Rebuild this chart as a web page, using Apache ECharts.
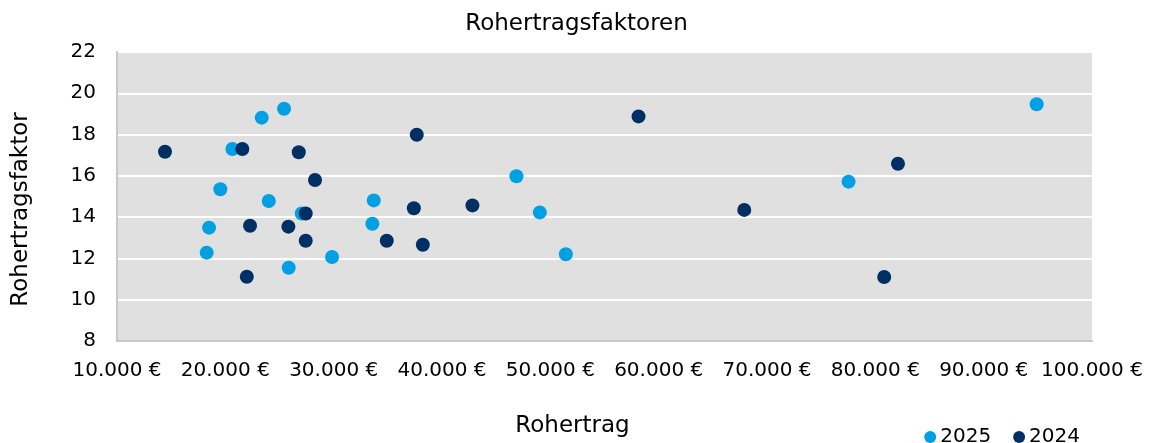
<!DOCTYPE html>
<html>
<head>
<meta charset="utf-8">
<script src="https://cdn.jsdelivr.net/npm/echarts@6/dist/echarts.min.js"></script>
<style>
    html, body { margin: 0; padding: 0; background: #fff; }
    #chart { width: 1153px; height: 443px; }
</style>
</head>
<body>
<div id="chart"></div>
<script>
// Rohertrag (EUR) / Rohertragsfaktor je Jahr
var rev2025 = [20650, 23360, 25420, 19540, 24010, 33700, 33570, 18500, 27050, 18280, 25850, 29850, 46870, 49030, 51430, 77530, 94890];
var factor2025 = [17.3, 18.82, 19.25, 15.35, 14.78, 14.81, 13.68, 13.49, 14.18, 12.28, 11.55, 12.07, 15.98, 14.23, 12.2, 15.72, 19.47];

var rev2024 = [14430, 21570, 26780, 28280, 27420, 22280, 25820, 21980, 27420, 34900, 37670, 37400, 42810, 38230, 58140, 67900, 82090, 80820];
var factor2024 = [17.17, 17.3, 17.14, 15.8, 14.18, 13.58, 13.54, 11.11, 12.86, 12.86, 17.99, 14.43, 14.57, 12.66, 18.88, 14.35, 16.59, 11.1];

var seriesNames = ['2025', '2024'];
var seriesColors = ['#00A0E3', '#002F63'];

function pairs(xs, ys) {
    return xs.map(function (x, i) { return [x, ys[i]]; });
}

// 10000 -> "10.000 €"
function euro(v) {
    return String(v).replace(/\B(?=(\d{3})+(?!\d))/g, '.') + ' €';
}

var font = 'DejaVu Sans';
var chart = echarts.init(document.getElementById('chart'));
chart.setOption({
    animation: false,
    textStyle: { fontFamily: font, color: '#000' },
    title: {
        text: 'Rohertragsfaktoren',
        left: 'center',
        top: 8,
        textStyle: { fontFamily: font, fontSize: 23, fontWeight: 'normal', color: '#000' }
    },
    legend: {
        data: seriesNames,
        right: 68,
        top: 422,
        icon: 'circle',
        itemWidth: 12,
        itemHeight: 12,
        itemGap: 22,
        textStyle: { fontFamily: font, fontSize: 20, color: '#000', padding: [0, 0, 0, -1] }
    },
    grid: {
        left: 117,
        right: 61,
        top: 52,
        bottom: 101,
        show: true,
        backgroundColor: '#E0E0E0',
        borderWidth: 0
    },
    xAxis: {
        type: 'value',
        min: 10000,
        max: 100000,
        interval: 10000,
        name: 'Rohertrag',
        nameLocation: 'middle',
        nameGap: 74,
        nameTextStyle: { fontFamily: font, fontSize: 23, color: '#000', padding: [0, 64, 0, 0] },
        axisLine: { show: true, lineStyle: { color: '#C8C8C8', width: 2 } },
        axisTick: { show: false },
        splitLine: { show: false },
        axisLabel: { fontFamily: font, fontSize: 20, color: '#000', margin: 20, formatter: euro }
    },
    yAxis: {
        type: 'value',
        min: 8,
        max: 22,
        interval: 2,
        name: 'Rohertragsfaktor',
        nameLocation: 'middle',
        nameGap: 84,
        nameTextStyle: { fontFamily: font, fontSize: 23, color: '#000', padding: [0, 26, 0, 0] },
        axisLine: { show: true, lineStyle: { color: '#C8C8C8', width: 2 } },
        axisTick: { show: false },
        splitLine: { show: true, lineStyle: { color: '#FFFFFF', width: 2 } },
        axisLabel: { fontFamily: font, fontSize: 20, color: '#000', margin: 21 }
    },
    series: [
        {
            name: seriesNames[0],
            type: 'scatter',
            symbolSize: 14,
            itemStyle: { color: seriesColors[0], opacity: 1 },
            data: pairs(rev2025, factor2025)
        },
        {
            name: seriesNames[1],
            type: 'scatter',
            symbolSize: 14,
            itemStyle: { color: seriesColors[1], opacity: 1 },
            data: pairs(rev2024, factor2024)
        }
    ]
});
</script>
</body>
</html>
